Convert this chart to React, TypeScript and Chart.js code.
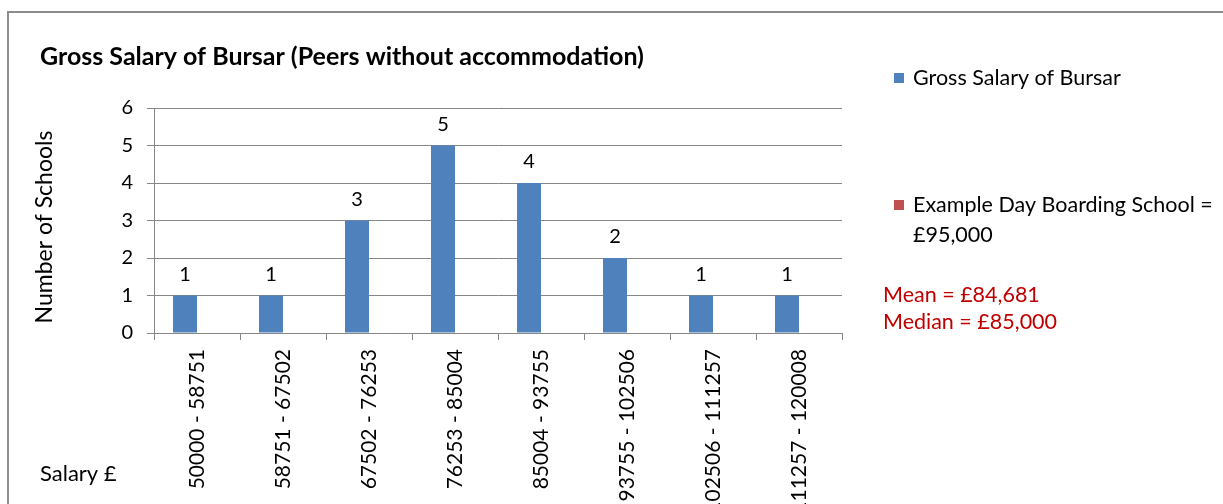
import React, { useEffect, useRef } from "react";
import { Chart, registerables } from "chart.js";

Chart.register(...registerables);

const categories = [
  "50000 - 58751",
  "58751 - 67502",
  "67502 - 76253",
  "76253 - 85004",
  "85004 - 93755",
  "93755 - 102506",
  "102506 - 111257",
  "111257 - 120008",
];
const bursarCounts = [1, 1, 3, 5, 4, 2, 1, 1];
const exampleSchoolCounts = [0, 0, 0, 0, 0, 0, 0, 0];
const seriesNames = ["Gross Salary of Bursar", "Example Day Boarding School ="];
const exampleSchoolValue = "£95,000";
const statsLines = ["Mean = £84,681", "Median = £85,000"];
const chartTitle = "Gross Salary of Bursar (Peers without accommodation)";
const yAxisTitle = "Number of Schools";
const xAxisTitle = "Salary £";

const FONT = "Lato, 'Open Sans', sans-serif";
const BLUE = "#4F81BD";
const RED = "#C0504D";
const GRID = "#868686";

const decorPlugin = {
  id: "decor",
  beforeDraw(chart: any) {
    const ctx = chart.ctx;
    ctx.save();
    ctx.fillStyle = "#fff";
    ctx.fillRect(0, 0, chart.width, chart.height);
    ctx.strokeStyle = "#8c8c8c";
    ctx.lineWidth = 2;
    ctx.strokeRect(8, 12, chart.width + 20, chart.height + 20);
    ctx.restore();
  },
  afterDatasetsDraw(chart: any) {
    const ctx = chart.ctx;
    ctx.save();
    ctx.fillStyle = "#000";
    ctx.font = `20px ${FONT}`;
    ctx.textAlign = "center";
    ctx.textBaseline = "middle";
    const meta = chart.getDatasetMeta(0);
    meta.data.forEach((el: any, i: number) => {
      ctx.fillText(String(bursarCounts[i]), el.x, el.y - 21);
    });
    ctx.restore();
  },
  afterDraw(chart: any) {
    const ctx = chart.ctx;
    ctx.save();
    ctx.textBaseline = "middle";
    ctx.textAlign = "left";
    // title
    ctx.fillStyle = "#000";
    ctx.font = `bold 25px ${FONT}`;
    ctx.fillText(chartTitle, 40, 57);
    // x axis title
    ctx.font = `22px ${FONT}`;
    ctx.fillText(xAxisTitle, 40, 474);
    // y axis title
    ctx.save();
    ctx.translate(45, 227);
    ctx.rotate(-Math.PI / 2);
    ctx.textAlign = "center";
    ctx.font = `23px ${FONT}`;
    ctx.fillText(yAxisTitle, 0, 0);
    ctx.restore();
    // legend
    ctx.font = `21.5px ${FONT}`;
    ctx.fillStyle = BLUE;
    ctx.fillRect(894, 73, 10, 10);
    ctx.fillStyle = "#000";
    ctx.fillText(seriesNames[0], 913, 78);
    ctx.fillStyle = RED;
    ctx.fillRect(894, 200, 10, 10);
    ctx.fillStyle = "#000";
    ctx.fillText(seriesNames[1], 913, 205);
    ctx.fillText(exampleSchoolValue, 913, 235);
    ctx.fillStyle = "#C00000";
    ctx.fillText(statsLines[0], 883, 295);
    ctx.fillText(statsLines[1], 883, 322);
    ctx.restore();
  },
};

export default function App() {
  const ref = useRef<HTMLCanvasElement | null>(null);
  useEffect(() => {
    if (!ref.current) return;
    const chart = new Chart(ref.current, {
      type: "bar",
      data: {
        labels: categories,
        datasets: [
          {
            label: seriesNames[0],
            data: bursarCounts,
            backgroundColor: BLUE,
            categoryPercentage: 0.558,
            barPercentage: 1,
          },
          {
            label: seriesNames[1],
            data: exampleSchoolCounts,
            backgroundColor: RED,
            categoryPercentage: 0.558,
            barPercentage: 1,
          },
        ],
      },
      options: {
        responsive: false,
        animation: false,
        layout: { padding: { top: 108, right: 381, left: 0, bottom: 0 } },
        plugins: {
          legend: { display: false },
          title: { display: false },
          tooltip: { enabled: false },
        },
        scales: {
          x: {
            offset: true,
            grid: {
              display: true,
              drawOnChartArea: false,
              drawTicks: true,
              tickLength: 7,
              color: GRID,
              offset: true,
            },
            border: { display: true, color: GRID, width: 1 },
            ticks: {
              minRotation: 90,
              maxRotation: 90,
              autoSkip: false,
              padding: 9,
              color: "#000",
              font: { family: FONT, size: 21 },
            },
            afterFit: (s: any) => {
              s.height = 171;
            },
          },
          y: {
            min: 0,
            max: 6,
            ticks: {
              stepSize: 1,
              padding: 14,
              color: "#000",
              font: { family: FONT, size: 20 },
            },
            grid: { color: GRID, tickLength: 7 },
            border: { display: true, color: GRID, width: 1 },
            afterFit: (s: any) => {
              s.width = 154;
            },
          },
        },
      },
      plugins: [decorPlugin],
    });
    return () => chart.destroy();
  }, []);
  return (
    <div style={{ position: "fixed", left: 0, top: 0, width: 1223, height: 504 }}>
      <canvas ref={ref} width={1223} height={504} style={{ display: "block" }} />
    </div>
  );
}
